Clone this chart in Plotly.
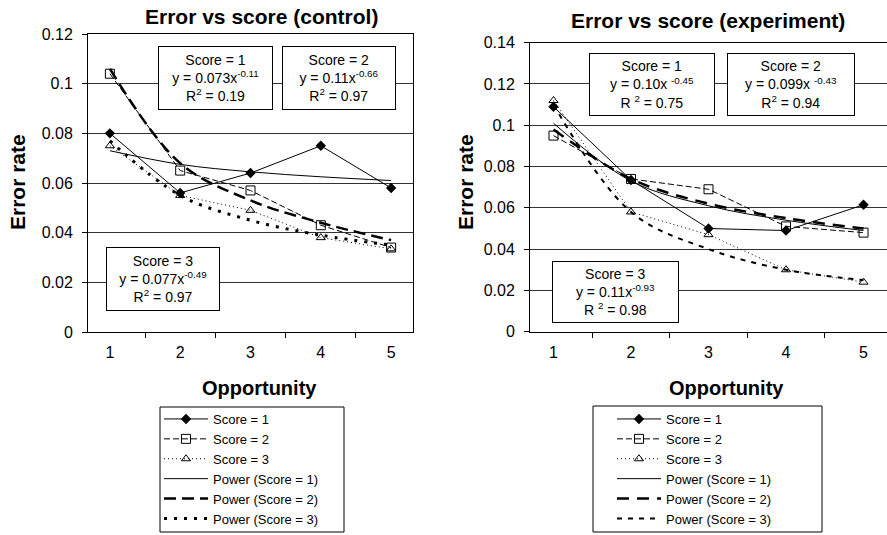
import plotly.graph_objects as go

W, H = 887, 535

opportunity = ["1", "2", "3", "4", "5"]

ctrl_y_ticks = [0, 0.02, 0.04, 0.06, 0.08, 0.1, 0.12]
ctrl_y_labels = ["0", "0.02", "0.04", "0.06", "0.08", "0.1", "0.12"]
exp_y_ticks = [0, 0.02, 0.04, 0.06, 0.08, 0.1, 0.12, 0.14]
exp_y_labels = ["0", "0.02", "0.04", "0.06", "0.08", "0.1", "0.12", "0.14"]

# control
ctrl_s1 = [0.080, 0.056, 0.064, 0.075, 0.058]
ctrl_s2 = [0.104, 0.065, 0.057, 0.043, 0.034]
ctrl_s3 = [0.075, 0.055, 0.049, 0.038, 0.0335]
ctrl_p1 = [0.073, 0.0675, 0.0645, 0.0625, 0.061]
ctrl_p2 = [0.106, 0.068, 0.053, 0.044, 0.037]
ctrl_p3 = [0.077, 0.055, 0.045, 0.039, 0.035]

# experiment
exp_s1 = [0.109, 0.0735, 0.050, 0.049, 0.0615]
exp_s2 = [0.095, 0.074, 0.069, 0.051, 0.048]
exp_s3 = [0.112, 0.058, 0.047, 0.030, 0.024]
exp_p1 = [0.101, 0.073, 0.061, 0.054, 0.049]
exp_p2 = [0.098, 0.074, 0.062, 0.055, 0.050]
exp_p3 = [0.110, 0.058, 0.040, 0.030, 0.025]

series_names = ["Score = 1", "Score = 2", "Score = 3",
                "Power (Score = 1)", "Power (Score = 2)", "Power (Score = 3)"]

ctrl_boxes = [
    "Score = 1<br>y = 0.073x<sup>-0.11</sup><br>R<sup>2</sup> = 0.19",
    "Score = 2<br>y = 0.11x<sup>-0.66</sup><br>R<sup>2</sup> = 0.97",
    "Score = 3<br>y = 0.077x<sup>-0.49</sup><br>R<sup>2</sup> = 0.97",
]
exp_boxes = [
    "Score = 1<br>y = 0.10x <sup>-0.45</sup><br>R <sup>2</sup> = 0.75",
    "Score = 2<br>y = 0.099x <sup>-0.43</sup><br>R<sup>2</sup> = 0.94",
    "Score = 3<br>y = 0.11x<sup>-0.93</sup><br>R <sup>2</sup> = 0.98",
]

FONT = "Liberation Sans, Arial, sans-serif"


def px(x):
    return x / W


def py(y):
    return 1 - y / H


fig = go.Figure()


def add_group(xa, ya, leg, s1, s2, s3, p1, p2, p3, p2dash, p3dash, p3w):
    data = [
        (s1, dict(color="black", width=1, dash="solid"),
         dict(symbol="diamond", size=8, color="black")),
        (s2, dict(color="black", width=1, dash="6px,3px"),
         dict(symbol="square-open", size=9, color="black", line=dict(width=1))),
        (s3, dict(color="black", width=1, dash="1px,3px"),
         dict(symbol="triangle-up-open", size=8, color="black", line=dict(width=1))),
    ]
    for i, (vals, line, marker) in enumerate(data):
        fig.add_trace(go.Scatter(
            x=opportunity, y=vals, mode="lines+markers", name=series_names[i],
            line=line, marker=marker, xaxis=xa, yaxis=ya, legend=leg))
    trends = [
        (p1, dict(color="black", width=1, dash="solid", shape="spline")),
        (p2, dict(color="black", width=2.5, dash=p2dash, shape="spline")),
        (p3, dict(color="black", width=p3w, dash=p3dash, shape="spline")),
    ]
    for j, (vals, line) in enumerate(trends):
        fig.add_trace(go.Scatter(
            x=opportunity, y=vals, mode="lines", name=series_names[3 + j],
            line=line, xaxis=xa, yaxis=ya, legend=leg))


add_group("x", "y", "legend", ctrl_s1, ctrl_s2, ctrl_s3, ctrl_p1, ctrl_p2, ctrl_p3,
          "12px,6px", "3px,7px", 3)
add_group("x2", "y2", "legend2", exp_s1, exp_s2, exp_s3, exp_p1, exp_p2, exp_p3,
          "12px,8px", "5px,6px", 2)

axis_common = dict(showline=True, linecolor="black", linewidth=1, mirror=True,
                   ticks="outside", ticklen=5, tickcolor="black",
                   tickfont=dict(family=FONT, size=16, color="black"))

fig.update_layout(
    width=W, height=H,
    margin=dict(l=0, r=0, t=0, b=0, autoexpand=False),
    paper_bgcolor="white", plot_bgcolor="white",
    font=dict(family=FONT, color="black"),
    xaxis=dict(type="category", domain=[px(88), px(413)], tickson="boundaries",
               showgrid=False, ticklabelstandoff=6, anchor="y", **axis_common),
    yaxis=dict(range=[0, 0.12], domain=[py(332), py(34)], tickvals=ctrl_y_ticks,
               ticktext=ctrl_y_labels, showgrid=True, gridcolor="#333", gridwidth=1,
               zeroline=False, ticklabelstandoff=6, anchor="x", **axis_common),
    xaxis2=dict(type="category", domain=[px(530), 1.0], tickson="boundaries",
                showgrid=False, ticklabelstandoff=6, anchor="y2", **axis_common),
    yaxis2=dict(range=[0, 0.14], domain=[py(331.7), py(42.7)], tickvals=exp_y_ticks,
                ticktext=exp_y_labels, showgrid=True, gridcolor="#333", gridwidth=1,
                zeroline=False, ticklabelstandoff=6, anchor="x2", **axis_common),
    legend=dict(x=px(159), y=py(404), xanchor="left", yanchor="top",
                bgcolor="rgba(0,0,0,0)", borderwidth=0, tracegroupgap=0,
                itemwidth=44, font=dict(family=FONT, size=13, color="black")),
    legend2=dict(x=px(612), y=py(404), xanchor="left", yanchor="top",
                 bgcolor="rgba(0,0,0,0)", borderwidth=0, tracegroupgap=0,
                 itemwidth=44, font=dict(family=FONT, size=13, color="black")),
    showlegend=True,
)

# legend frames
fig.add_shape(type="rect", xref="paper", yref="paper", x0=px(160), x1=px(344),
              y0=py(532), y1=py(407), line=dict(color="black", width=1))
fig.add_shape(type="rect", xref="paper", yref="paper", x0=px(593), x1=px(822),
              y0=py(532), y1=py(406), line=dict(color="black", width=1))

# titles and axis titles
texts = [
    ("<b>Error vs score (control)</b>", 261, 16, 21, 0),
    ("<b>Error vs score (experiment)</b>", 708, 20, 21, 0),
    ("<b>Error rate</b>", 17, 182, 21, -90),
    ("<b>Error rate</b>", 465, 182, 21, -90),
    ("<b>Opportunity</b>", 259, 388, 20, 0),
    ("<b>Opportunity</b>", 726, 388, 20, 0),
]
for t, x, y, s, ang in texts:
    fig.add_annotation(text=t, x=px(x), y=py(y), xref="paper", yref="paper",
                       xanchor="center", yanchor="middle", showarrow=False,
                       textangle=ang, font=dict(family=FONT, size=s, color="black"))

# equation boxes: (center x, center y, width, height)
ctrl_box_pos = [(215.5, 78, 115, 64), (339, 78, 114, 64), (163, 279, 114, 64)]
exp_box_pos = [(652, 84.5, 126, 63), (791, 84.5, 128, 63), (615.5, 292, 127, 62)]
for texts_, poss in ((ctrl_boxes, ctrl_box_pos), (exp_boxes, exp_box_pos)):
    for t, (cx, cy, w, h) in zip(texts_, poss):
        fig.add_annotation(text=t, x=px(cx), y=py(cy), xref="paper", yref="paper",
                           xanchor="center", yanchor="middle", showarrow=False,
                           width=w - 4, height=h - 4, align="center", valign="middle",
                           bgcolor="white", bordercolor="black", borderwidth=1,
                           borderpad=1,
                           font=dict(family=FONT, size=14, color="black"))

fig.write_html("out.html")
